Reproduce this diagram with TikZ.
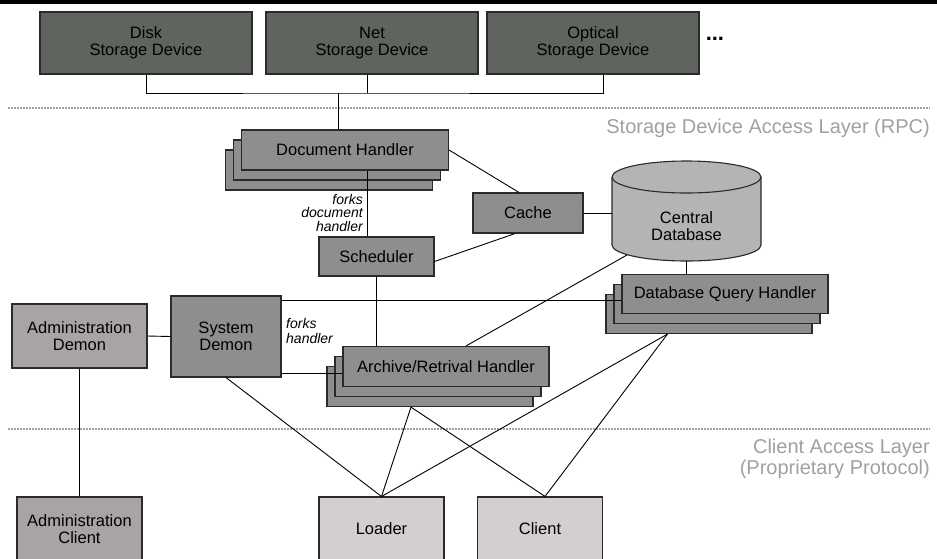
\documentclass[tikz,border=0pt]{standalone}
\usepackage{fontspec}
\setmainfont{Liberation Sans}
\usetikzlibrary{positioning}

\definecolor{devgray}{HTML}{5F645F}
\definecolor{midgray}{HTML}{8E8E8E}
\definecolor{dbgray}{HTML}{B4B4B4}
\definecolor{admgray}{HTML}{A8A4A6}
\definecolor{cligray}{HTML}{D3CFD1}
\definecolor{layergray}{HTML}{A0A0A0}
\definecolor{edgegray}{HTML}{2A2A2A}

\tikzset{
	box/.style={draw=edgegray, line width=1.1pt, inner sep=0pt, align=center, font=\fontsize{16.5}{17}\selectfont},
	devbox/.style={box, fill=devgray, minimum width=212pt, minimum height=62pt},
	hbox/.style={box, fill=midgray, minimum height=40pt},
	admbox/.style={box, fill=admgray, minimum height=64pt},
	clibox/.style={box, fill=cligray, minimum width=125pt, minimum height=64pt},
	link/.style={line width=0.9pt, black},
	layerline/.style={line width=1.5pt, layergray, dash pattern=on 1.5pt off 1.5pt},
	layertext/.style={layergray, inner sep=0pt, align=right, font=\fontsize{20}{21}\selectfont},
	forks/.style={inner sep=0pt, font=\itshape\fontsize{14}{13.5}\selectfont}
}

\begin{document}
\begin{tikzpicture}[x=1pt, y=-1pt]
	\useasboundingbox (0,0) rectangle (937,558);
	\fill[black] (0,0) rectangle (937,4);

	\draw[layerline] (8,108) -- (930,108);
	\draw[layerline] (8,429) -- (930,429);
	\draw node (rpc)[layertext, anchor=base east] at (930,133) {Storage Device Access Layer (RPC)};
	\draw node (cal)[layertext, anchor=east] at (930,459) {Client Access Layer\\(Proprietary Protocol)};

	\draw node (disk)[devbox] at (146,43) {Disk\\Storage Device};
	\draw node (net)[devbox] at (372,43) {Net\\Storage Device};
	\draw node (opt)[devbox] at (593,43) {Optical\\Storage Device};
	\draw node (dots)[right=6pt of opt, yshift=4pt, inner sep=0pt, font=\bfseries\fontsize{22}{22}\selectfont]{...};

	\draw node (dh3)[hbox, minimum width=207pt] at (329,170) {};
	\draw node (dh2)[hbox, minimum width=207pt] at ([shift={(8,-10)}]dh3) {};
	\draw node (dh)[hbox, minimum width=207pt] at ([shift={(16,-20)}]dh3) {Document Handler};

	\draw node (sched)[hbox, minimum width=115pt, minimum height=39pt] at (376.5,256.5) {Scheduler};
	\draw node (cache)[hbox, minimum width=110pt] at (528,213) {Cache};

	\draw[fill=dbgray, draw=edgegray, line width=1.1pt] (612,177) -- (612,245)
		arc[start angle=180, end angle=0, x radius=74.5, y radius=16] -- (761,177)
		arc[start angle=0, end angle=-180, x radius=74.5, y radius=16] -- cycle;
	\draw[draw=edgegray, line width=1.1pt] (612,177) arc[start angle=180, end angle=0, x radius=74.5, y radius=16];
	\draw node (db)[inner sep=0pt, minimum width=149pt, minimum height=70pt, align=center, font=\fontsize{16.5}{17}\selectfont] at (686.5,226) {Central\\Database};
	\coordinate (dbsw) at (627,255);

	\draw node (dbq3)[hbox, minimum width=206pt, minimum height=39pt] at (709,314) {};
	\draw node (dbq2)[hbox, minimum width=206pt, minimum height=39pt] at ([shift={(8,-10)}]dbq3) {};
	\draw node (dbq)[hbox, minimum width=206pt, minimum height=39pt] at ([shift={(16,-20)}]dbq3) {Database Query Handler};

	\draw node (adm)[admbox, minimum width=135pt] at (79.5,336) {Administration\\Demon};
	\draw node (sysd)[hbox, minimum width=110pt, minimum height=81pt] at (226,336.5) {System\\Demon};

	\draw node (arh3)[hbox, minimum width=206pt] at (430,386.5) {};
	\draw node (arh2)[hbox, minimum width=206pt] at ([shift={(8,-10)}]arh3) {};
	\draw node (arh)[hbox, minimum width=206pt] at ([shift={(16,-20)}]arh3) {Archive/Retrival Handler};

	\draw node (admc)[admbox, minimum width=125pt] at (79.5,529) {Administration\\Client};
	\draw node (ld)[clibox] at (381.5,529) {Loader};
	\draw node (cl)[clibox] at (540,529) {Client};

	\draw node (fdh)[forks, align=right, anchor=north east] at (363,194) {forks\\document\\handler};
	\draw node (fh)[forks, align=left, anchor=north west, font=\itshape\fontsize{14}{15}\selectfont] at (286,318) {forks\\handler};

	\draw[link] (disk.south) |- (338,93) -| ([xshift=10]opt.south);
	\draw[link] ([xshift=-5]net.south) -- ([xshift=-5]net.south |- 0,93);
	\draw[link] (338,93) -- (338,93 |- dh.north);
	\draw[link] ([xshift=-9.5]sched.north) -- ([xshift=-9.5]sched.north |- dh.south);
	\draw[link] (dh.east) -- ([xshift=-9]cache.north);
	\draw[link] ([yshift=-5pt]sched.east) -- ([xshift=-13]cache.south);
	\draw[link] (cache.east) -- (cache.east -| db.west);
	\draw[link] (db.south) -- (db.south |- dbq.north);
	\draw[link] (adm.east) -- (sysd.west);
	\draw[link] (adm.south) -- (admc.north);
	\draw[link] ([yshift=-5pt]sysd.north east) -- ([yshift=-5pt]sysd.north east -| dbq.west);
	\draw[link] ([yshift=4pt]sysd.south east) -- ([yshift=4pt]sysd.south east -| arh.west);
	\draw[link] (sched.south) -- (sched.south |- arh.north);
	\draw[link] (dbsw) -- ([xshift=20]arh.north);
	\draw[link] (sysd.south) -- (ld.north);
	\draw[link] ([xshift=-19]arh3.south) -- (ld.north);
	\draw[link] ([xshift=-19]arh3.south) -- ([xshift=5]cl.north);
	\draw[link] ([xshift=-41.5]dbq3.south) -- (ld.north);
	\draw[link] ([xshift=-41.5]dbq3.south) -- ([xshift=5]cl.north);
\end{tikzpicture}
\end{document}
